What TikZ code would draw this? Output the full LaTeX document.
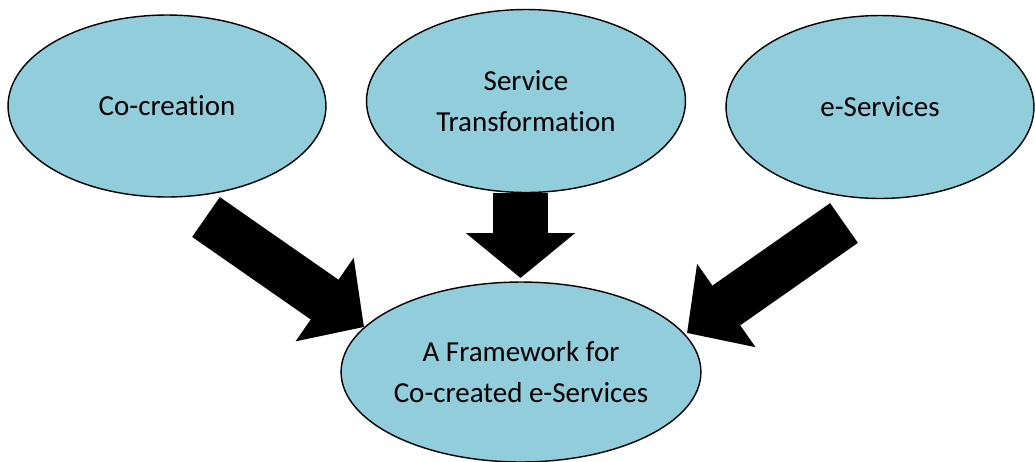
\documentclass[tikz,border=0pt]{standalone}
\usepackage{fontspec}
\setmainfont{Carlito}[Ligatures=NoCommon,Contextuals=NoAlternate]
\usetikzlibrary{shapes.geometric,arrows.meta}
\definecolor{bubbleblue}{RGB}{146,205,220}
\begin{document}
\begin{tikzpicture}[x=0.02cm,y=-0.02cm,
	bubble/.style={ellipse,draw,line width=0.8pt,fill=bubbleblue,inner sep=0pt,align=center,font=\fontsize{16.5}{23.3}\selectfont},
	fatarrow/.style={line width=#1,-{Triangle[length=0.96cm,width=1.98cm]}},
	fatarrow/.default=0.97cm]
	\useasboundingbox (0,0) rectangle (1035,461);
	% the three inputs on top
	\node[bubble,minimum width=6.36cm,minimum height=3.64cm] (cocreation) at (167,106) {Co-creation};
	\node[bubble,minimum width=6.38cm,minimum height=3.66cm] (transform) at (526,101) {Service\\Transformation};
	\node[bubble,minimum width=6.16cm,minimum height=3.66cm] (eservices) at (880,107) {e-Services};
	% the result below
	\node[bubble,minimum width=7.12cm,minimum height=3.6cm] (framework) at (521,372) {A Framework for\\Co-created e-Services};
	% ends of the block arrows
	\coordinate (l-from) at (206,217);
	\coordinate (l-to) at (364,327);
	\coordinate (m-from) at (520.5,193);
	\coordinate (m-to) at (520.5,278);
	\coordinate (r-from) at (844,223);
	\coordinate (r-to) at (687,333);
	\draw[fatarrow] (l-from)--(l-to);
	\draw[line width=1.1cm,-{Triangle[length=0.9cm,width=2.14cm]}] (m-from)--(m-to);
	\draw[fatarrow] (r-from)--(r-to);
\end{tikzpicture}
\end{document}
